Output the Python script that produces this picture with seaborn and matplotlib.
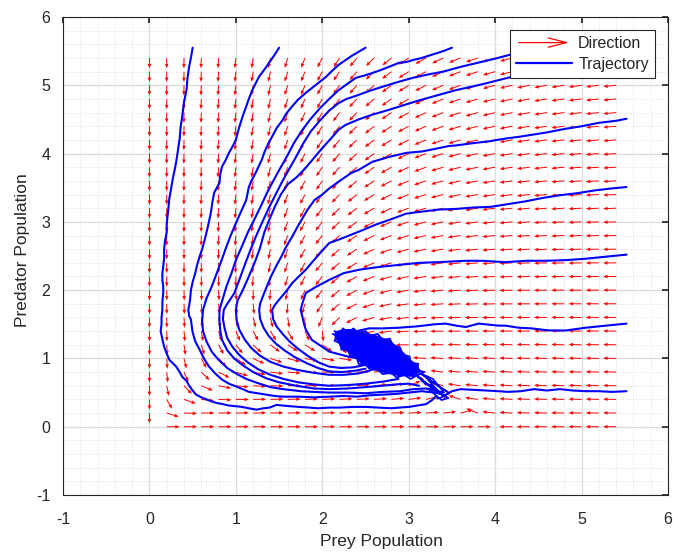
import numpy as np
import pandas as pd
import matplotlib
matplotlib.use("Agg")
import matplotlib.pyplot as plt
import seaborn as sns
from matplotlib.legend_handler import HandlerBase
from matplotlib.patches import FancyArrowPatch
from matplotlib.lines import Line2D
from matplotlib.ticker import MultipleLocator

# ---------------- data ----------------
# quiver grid (prey, predator)
grid_prey = [0.0, 0.2, 0.4, 0.6, 0.8, 1.0, 1.2, 1.4, 1.6, 1.8, 2.0, 2.2, 2.4, 2.6,
             2.8, 3.0, 3.2, 3.4, 3.6, 3.8, 4.0, 4.2, 4.4, 4.6, 4.8, 5.0, 5.2, 5.4]
grid_pred = list(grid_prey)

# model parameters of the direction field
prey_growth = 2.86
carrying_capacity = 4.0
predation_rate = 1.0
predator_growth = 0.6
predator_ratio = 0.385
arrow_len = 0.15

# stochastic trajectories (prey, predator)
T1 = [(0.50,5.55),(0.48,5.40),(0.46,5.28),(0.44,5.10),(0.43,4.94),(0.40,4.75),(0.38,4.55),(0.36,4.38),
      (0.35,4.22),(0.33,4.05),(0.31,3.88),(0.29,3.75),(0.27,3.63),(0.25,3.48),(0.23,3.34),(0.22,3.20),
      (0.21,3.09),(0.20,2.97),(0.20,2.85),(0.18,2.72),(0.17,2.60),(0.17,2.47),(0.16,2.35),(0.15,2.25),
      (0.15,2.15),(0.16,2.05),(0.16,1.96),(0.15,1.83),(0.15,1.71),(0.14,1.60),(0.14,1.50),(0.13,1.40),
      (0.15,1.28),(0.17,1.17),(0.20,1.07),(0.23,0.98),(0.27,0.93),(0.31,0.88),(0.35,0.80),(0.38,0.73),
      (0.43,0.67),(0.46,0.60),(0.50,0.53),(0.54,0.47),(0.60,0.43),(0.66,0.40),(0.72,0.37),(0.77,0.35),
      (0.85,0.33),(0.92,0.31),(1.00,0.30),(1.07,0.29),(1.15,0.27),(1.24,0.25),(1.32,0.27),(1.39,0.28),
      (1.47,0.32),(1.54,0.31),(1.63,0.30),(1.73,0.29),(1.85,0.28),(1.95,0.27),(2.08,0.28),(2.20,0.28),
      (2.35,0.29),(2.50,0.29),(2.65,0.28),(2.80,0.27),(2.89,0.28),(3.00,0.29),(3.10,0.31),(3.20,0.33),
      (3.27,0.39),(3.32,0.45)]
T2 = [(1.50,5.55),(1.45,5.45),(1.39,5.34),(1.33,5.23),(1.27,5.13),(1.23,5.03),(1.19,4.93),(1.15,4.80),
      (1.12,4.69),(1.08,4.55),(1.04,4.39),(1.02,4.30),(1.00,4.20),(0.96,4.10),(0.92,4.01),(0.88,3.90),
      (0.84,3.81),(0.82,3.70),(0.81,3.57),(0.78,3.50),(0.75,3.43),(0.73,3.30),(0.71,3.13),(0.68,2.95),
      (0.64,2.74),(0.61,2.60),(0.58,2.49),(0.55,2.36),(0.53,2.25),(0.50,2.12),(0.48,2.00),(0.47,1.86),
      (0.46,1.78),(0.45,1.71),(0.46,1.62),(0.48,1.57),(0.49,1.47),(0.50,1.38),(0.53,1.25),(0.58,1.13),
      (0.63,1.00),(0.69,0.88),(0.76,0.78),(0.84,0.69),(0.92,0.63),(1.00,0.59),(1.08,0.55),(1.15,0.51),
      (1.25,0.49),(1.35,0.47),(1.45,0.45),(1.54,0.44),(1.65,0.44),(1.73,0.44),(1.90,0.43),(2.08,0.44),
      (2.25,0.45),(2.40,0.44),(2.55,0.46),(2.70,0.47),(2.85,0.48),(3.00,0.50),(3.15,0.52),(3.30,0.50),
      (3.38,0.48)]
T3 = [(2.50,5.55),(2.42,5.49),(2.34,5.43),(2.27,5.37),(2.19,5.30),(2.12,5.22),(2.04,5.12),(1.92,5.00),
      (1.81,4.89),(1.72,4.79),(1.65,4.69),(1.58,4.58),(1.54,4.49),(1.47,4.37),(1.42,4.25),(1.38,4.16),
      (1.33,4.02),(1.30,3.91),(1.23,3.72),(1.18,3.60),(1.15,3.51),(1.12,3.32),(1.06,3.15),(1.00,2.98),
      (0.94,2.80),(0.88,2.60),(0.83,2.42),(0.78,2.25),(0.72,2.05),(0.66,1.88),(0.62,1.71),(0.61,1.55),
      (0.62,1.40),(0.66,1.25),(0.72,1.10),(0.80,0.98),(0.90,0.86),(1.00,0.78),(1.12,0.70),(1.25,0.64),
      (1.40,0.58),(1.55,0.55),(1.75,0.52),(1.90,0.51),(2.08,0.50),(2.30,0.50),(2.50,0.49),(2.70,0.51),
      (2.90,0.52),(3.05,0.55),(3.20,0.56),(3.30,0.53)]
T4 = [(3.50,5.55),(3.42,5.51),(3.35,5.48),(3.25,5.44),(3.15,5.40),(3.05,5.37),(2.97,5.34),(2.89,5.33),
      (2.77,5.27),(2.67,5.22),(2.58,5.18),(2.48,5.14),(2.39,5.11),(2.30,5.03),(2.19,4.93),(2.08,4.80),
      (1.97,4.66),(1.86,4.50),(1.76,4.33),(1.67,4.15),(1.60,3.98),(1.52,3.80),(1.45,3.64),(1.37,3.45),
      (1.30,3.26),(1.22,3.05),(1.14,2.85),(1.07,2.64),(1.00,2.44),(0.95,2.25),(0.89,2.05),(0.85,1.88),
      (0.81,1.71),(0.81,1.55),(0.82,1.40),(0.84,1.27),(0.90,1.12),(0.98,1.00),(1.08,0.90),(1.20,0.80),
      (1.35,0.71),(1.50,0.65),(1.70,0.60),(1.90,0.56),(2.08,0.55),(2.30,0.56),(2.50,0.58),(2.70,0.60),
      (2.85,0.62),(3.00,0.63),(3.12,0.60)]
T5 = [(4.50,5.55),(4.35,5.50),(4.18,5.45),(4.00,5.39),(3.80,5.33),(3.60,5.27),(3.40,5.20),(3.23,5.16),
      (3.05,5.11),(2.88,5.05),(2.70,4.98),(2.55,4.92),(2.40,4.85),(2.28,4.80),(2.19,4.74),(2.08,4.63),
      (1.97,4.48),(1.87,4.33),(1.78,4.15),(1.70,3.96),(1.62,3.78),(1.54,3.60),(1.46,3.40),(1.38,3.20),
      (1.30,2.98),(1.23,2.78),(1.16,2.56),(1.10,2.36),(1.04,2.15),(0.98,1.95),(0.90,1.80),(0.86,1.71),
      (0.85,1.58),(0.87,1.44),(0.90,1.30),(0.96,1.17),(1.04,1.05),(1.14,0.94),(1.26,0.84),(1.40,0.76),
      (1.55,0.70),(1.72,0.65),(1.90,0.62),(2.08,0.60),(2.30,0.61),(2.50,0.63),(2.70,0.66),(2.88,0.70)]
T6 = [(5.50,5.55),(5.20,5.45),(4.90,5.33),(4.60,5.22),(4.40,5.16),(4.18,5.12),(3.93,5.04),(3.73,4.98),
      (3.55,4.93),(3.35,4.86),(3.15,4.79),(2.97,4.72),(2.77,4.64),(2.58,4.57),(2.42,4.50),(2.27,4.42),
      (2.19,4.35),(2.10,4.22),(2.00,4.08),(1.90,3.93),(1.80,3.78),(1.70,3.65),(1.60,3.55),(1.52,3.40),
      (1.45,3.22),(1.39,3.04),(1.33,2.85),(1.28,2.62),(1.22,2.41),(1.15,2.20),(1.08,2.00),(1.02,1.85),
      (1.00,1.71),(1.01,1.55),(1.04,1.42),(1.10,1.28),(1.18,1.15),(1.28,1.04),(1.40,0.95),(1.55,0.88),
      (1.72,0.83),(1.90,0.79),(2.08,0.76),(2.25,0.76),(2.42,0.78),(2.55,0.82)]
T7 = [(5.52,4.51),(5.40,4.48),(5.20,4.45),(5.00,4.40),(4.80,4.36),(4.60,4.31),(4.50,4.29),(4.30,4.25),
      (4.12,4.22),(3.93,4.18),(3.73,4.15),(3.55,4.12),(3.46,4.11),(3.35,4.08),(3.15,4.03),(2.97,4.01),
      (2.77,3.95),(2.58,3.88),(2.42,3.76),(2.34,3.72),(2.19,3.59),(2.08,3.49),(2.00,3.40),(1.91,3.32),
      (1.83,3.18),(1.77,3.05),(1.71,2.92),(1.65,2.78),(1.58,2.63),(1.53,2.50),(1.47,2.36),(1.41,2.21),
      (1.36,2.06),(1.31,1.90),(1.28,1.80),(1.27,1.71),(1.28,1.58),(1.32,1.45),(1.38,1.33),(1.46,1.22),
      (1.56,1.12),(1.68,1.02),(1.82,0.93),(1.95,0.86),(2.08,0.81),(2.22,0.80),(2.38,0.82),(2.50,0.85)]
T8 = [(5.52,3.51),(5.35,3.49),(5.15,3.46),(4.95,3.42),(4.75,3.39),(4.55,3.35),(4.35,3.30),(4.15,3.26),
      (3.95,3.22),(3.75,3.21),(3.55,3.19),(3.35,3.18),(3.15,3.15),(2.97,3.12),(2.80,3.04),(2.62,2.96),
      (2.45,2.87),(2.31,2.80),(2.19,2.74),(2.08,2.69),(1.98,2.55),(1.89,2.42),(1.81,2.30),(1.72,2.19),
      (1.65,2.10),(1.58,1.98),(1.50,1.86),(1.45,1.78),(1.42,1.71),(1.43,1.58),(1.47,1.47),(1.54,1.36),
      (1.62,1.25),(1.72,1.14),(1.84,1.03),(1.96,0.94),(2.08,0.88),(2.22,0.86),(2.36,0.87),(2.48,0.90)]
T9 = [(5.52,2.52),(5.28,2.49),(5.05,2.46),(4.82,2.44),(4.59,2.43),(4.36,2.43),(4.12,2.41),(3.85,2.43),
      (3.66,2.43),(3.35,2.41),(3.12,2.40),(2.89,2.37),(2.66,2.34),(2.43,2.30),(2.25,2.25),(2.08,2.15),
      (1.93,2.05),(1.81,1.96),(1.77,1.81),(1.75,1.71),(1.77,1.61),(1.79,1.50),(1.81,1.42),(1.88,1.27),
      (2.00,1.17),(2.08,1.10),(2.20,1.06),(2.32,1.02),(2.42,1.00)]
T10 = [(5.52,1.51),(5.28,1.48),(5.05,1.45),(4.82,1.41),(4.62,1.41),(4.42,1.44),(4.27,1.45),(4.12,1.48),
       (4.04,1.48),(3.81,1.51),(3.66,1.46),(3.55,1.48),(3.43,1.51),(3.30,1.50),(3.10,1.47),(2.89,1.45),
       (2.70,1.44),(2.54,1.44),(2.40,1.40),(2.25,1.36),(2.18,1.35)]
T11 = [(5.52,0.52),(5.35,0.51),(5.20,0.52),(5.05,0.52),(4.90,0.53),(4.75,0.55),(4.60,0.53),(4.45,0.55),
       (4.30,0.52),(4.15,0.51),(4.04,0.52),(3.90,0.53),(3.75,0.54),(3.60,0.55),(3.50,0.52),(3.45,0.48),
       (3.40,0.45)]

# dense noisy cloud around the equilibrium (prey, predator)
cloud_core = [(2.16,1.38),(2.25,1.41),(2.34,1.41),(2.48,1.36),(2.62,1.32),(2.77,1.25),(2.85,1.17),
              (2.95,1.05),(3.00,0.98),(3.08,0.90),(3.12,0.82),(3.05,0.75),(2.89,0.76),(2.74,0.80),
              (2.63,0.84),(2.54,0.88),(2.45,0.95),(2.39,1.02),(2.31,1.10),(2.23,1.17),(2.19,1.25),
              (2.16,1.32)]
cloud_edge = [(2.14,1.40),(2.20,1.36),(2.24,1.44),(2.30,1.38),(2.36,1.44),(2.42,1.37),(2.50,1.40),
              (2.56,1.33),(2.64,1.36),(2.70,1.27),(2.78,1.29),(2.82,1.19),(2.90,1.16),(2.93,1.05),
              (3.01,1.03),(3.02,0.94),(3.11,0.92),(3.10,0.83),(3.18,0.80),(3.08,0.74),(3.02,0.70),
              (2.95,0.76),(2.86,0.72),(2.80,0.79),(2.70,0.77),(2.64,0.84),(2.56,0.83),(2.50,0.91),
              (2.42,0.92),(2.40,1.01),(2.32,1.04),(2.30,1.12),(2.22,1.13),(2.21,1.22),(2.14,1.26),
              (2.18,1.32),(2.12,1.36)]
cloud_tail = [(3.00,0.88),(3.20,0.62),(3.10,0.74),(3.30,0.55),(3.15,0.68),(3.36,0.48),(3.25,0.61),
              (3.42,0.45),(3.30,0.53),(3.46,0.42),(3.38,0.39),(3.22,0.56),(3.41,0.50),(3.28,0.70),
              (3.12,0.79),(3.31,0.63),(3.45,0.51),(3.36,0.58),(3.20,0.72),(3.40,0.44),(3.33,0.41)]

trajectories = [T1, T2, T3, T4, T5, T6, T7, T8, T9, T10, T11]

# ---------------- figure ----------------
sns.set_theme(style="white")
plt.rcParams["font.family"] = ["Liberation Sans", "DejaVu Sans"]
plt.rcParams["axes.unicode_minus"] = False

fig = plt.figure(figsize=(6.73, 5.56), dpi=100)
ax = fig.add_axes([63/673, 1 - 495/556, (668 - 63)/673, (495 - 17)/556])

# direction field
X, Y = np.meshgrid(np.array(grid_prey), np.array(grid_pred))
Xs = np.where(X == 0, 1e-9, X)
dX = prey_growth * X * (1 - X / carrying_capacity) - predation_rate * X * Y
dY = predator_growth * Y * (1 - Y / (predator_ratio * Xs))
mag = np.hypot(dX, dY)
ok = mag > 0
U = np.where(ok, dX / np.where(ok, mag, 1), np.nan) * arrow_len
V = np.where(ok, dY / np.where(ok, mag, 1), np.nan) * arrow_len
ax.quiver(X[ok], Y[ok], U[ok], V[ok], color=(1, 0, 0), angles="xy", scale_units="xy",
          scale=1, width=0.0016, headwidth=3.8, headlength=4.6, headaxislength=4.3, zorder=2)

# trajectories
rows = []
for k, tr in enumerate(trajectories):
    for i, (px, py) in enumerate(tr):
        rows.append({"traj": k, "order": i, "prey": px, "pred": py})
df = pd.DataFrame(rows)
sns.lineplot(data=df, x="prey", y="pred", units="traj", estimator=None, sort=False,
             color=(0, 0, 1), lw=1.5, ax=ax, legend=False, zorder=3)

cx, cy = zip(*cloud_core)
ax.fill(cx, cy, color=(0, 0, 1), lw=2, zorder=3)
ex, ey = zip(*cloud_edge)
ax.plot(ex, ey, color=(0, 0, 1), lw=1.3, zorder=3)
tx, ty = zip(*cloud_tail)
ax.plot(tx, ty, color=(0, 0, 1), lw=1.2, zorder=3)

# axes styling
ax.set_xlim(-1, 6)
ax.set_ylim(-1, 6)
ax.xaxis.set_major_locator(MultipleLocator(1))
ax.yaxis.set_major_locator(MultipleLocator(1))
ax.xaxis.set_minor_locator(MultipleLocator(0.2))
ax.yaxis.set_minor_locator(MultipleLocator(0.2))
ax.grid(True, which="major", color=(0.86, 0.86, 0.86), lw=0.9, zorder=0)
ax.grid(True, which="minor", color=(0.84, 0.84, 0.84), lw=0.6, ls=(0, (1, 2)), zorder=0)
ax.set_axisbelow(True)
for sp in ax.spines.values():
    sp.set_color((0.15, 0.15, 0.15))
    sp.set_linewidth(0.8)
ax.tick_params(which="both", direction="in", top=True, right=True, colors=(0.15, 0.15, 0.15),
               labelsize=11.5)
ax.tick_params(which="major", length=4)
ax.tick_params(which="minor", length=0)
ax.tick_params(axis="x", pad=12)
ax.tick_params(axis="y", pad=9)
ax.set_xlabel("Prey Population", fontsize=12.5, color=(0.15, 0.15, 0.15))
ax.set_ylabel("Predator Population", fontsize=12.5, color=(0.15, 0.15, 0.15))
ax.xaxis.set_label_coords((381 - 63) / 605, -(534 - 495) / 478)
ax.yaxis.set_label_coords(-(63 - 30) / 605, (495 - 250) / 478)


class ArrowHandler(HandlerBase):
    def create_artists(self, legend, orig_handle, xdescent, ydescent, width, height,
                       fontsize, trans):
        y = height / 2 - ydescent
        arr = FancyArrowPatch((-xdescent, y), (-xdescent + width, y),
                              arrowstyle="->,head_length=1.1,head_width=0.28",
                              mutation_scale=12, color=(1, 0, 0), lw=0.9, transform=trans)
        return [arr]


dir_proxy = Line2D([], [], color=(1, 0, 0))
traj_proxy = Line2D([], [], color=(0, 0, 1), lw=1.6)
leg = ax.legend([dir_proxy, traj_proxy], ["Direction", "Trajectory"],
                handler_map={dir_proxy: ArrowHandler()}, loc="upper right",
                fontsize=11.5, handlelength=3.5, frameon=True, fancybox=False,
                framealpha=1, edgecolor=(0.15, 0.15, 0.15), borderaxespad=0.8,
                borderpad=0.4, labelspacing=0.35, handletextpad=0.4)
leg.get_frame().set_linewidth(0.8)
leg.set_zorder(5)

fig.savefig("out.png", dpi=100)
